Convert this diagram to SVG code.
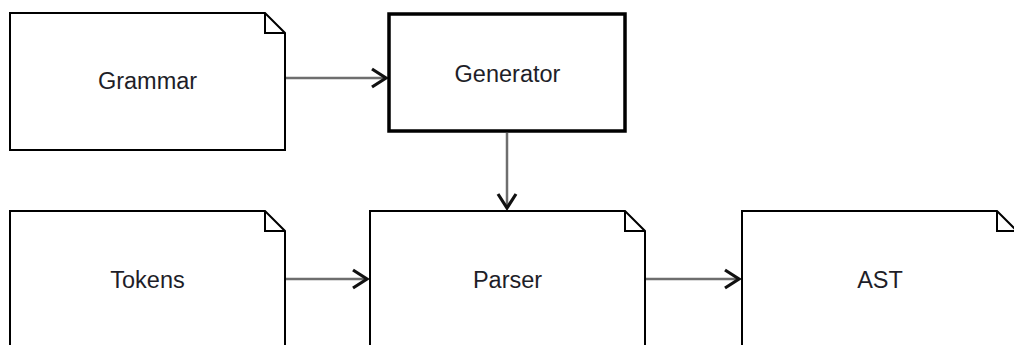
<svg xmlns="http://www.w3.org/2000/svg" width="1014" height="345" viewBox="0 0 1014 345">
  <style>
    .doc { fill: #ffffff; stroke: #000000; stroke-width: 2; stroke-linejoin: miter; }
    .fold { fill: none; stroke: #000000; stroke-width: 2; }
    .proc { fill: #ffffff; stroke: #000000; stroke-width: 3.5; }
    .label { font-family: "Liberation Sans", Arial, sans-serif; font-size: 23.5px; fill: #1e1e28; text-anchor: middle; }
    .edge { fill: none; stroke: #6e6e6e; stroke-width: 2.5; }
  </style>
  <defs>
    <marker id="open-arrow" markerUnits="userSpaceOnUse" markerWidth="24" markerHeight="24" viewBox="-18 -12 24 24" refX="0" refY="0" orient="auto">
      <path d="M-14,-9 L0,0 L-14,9" fill="none" stroke="#111111" stroke-width="3.2" stroke-linejoin="miter"/>
    </marker>
  </defs>
  <rect width="1014" height="345" fill="#ffffff"/>

  <g id="connectors">
    <path class="edge" d="M286,78 H386" marker-end="url(#open-arrow)"/>
    <path class="edge" d="M507,133 V208" marker-end="url(#open-arrow)"/>
    <path class="edge" d="M286,279 H367" marker-end="url(#open-arrow)"/>
    <path class="edge" d="M646,279 H739" marker-end="url(#open-arrow)"/>
  </g>

  <g id="grammar">
    <path class="doc" d="M10,13 H265 L285,33 V150 H10 Z"/>
    <path class="fold" d="M265,13 V33 H285"/>
    <text class="label" x="147.5" y="88.5">Grammar</text>
  </g>

  <g id="generator">
    <rect class="proc" x="389" y="14" width="236" height="117"/>
    <text class="label" x="507.5" y="81.5">Generator</text>
  </g>

  <g id="tokens">
    <path class="doc" d="M10,211 H265 L285,231 V360 H10 Z"/>
    <path class="fold" d="M265,211 V231 H285"/>
    <text class="label" x="147.5" y="287.5">Tokens</text>
  </g>

  <g id="parser">
    <path class="doc" d="M370,211 H625 L645,231 V360 H370 Z"/>
    <path class="fold" d="M625,211 V231 H645"/>
    <text class="label" x="507.5" y="287.5">Parser</text>
  </g>

  <g id="ast">
    <path class="doc" d="M742,211 H997 L1017,231 V360 H742 Z"/>
    <path class="fold" d="M997,211 V231 H1017"/>
    <text class="label" x="880" y="287.5">AST</text>
  </g>
</svg>
